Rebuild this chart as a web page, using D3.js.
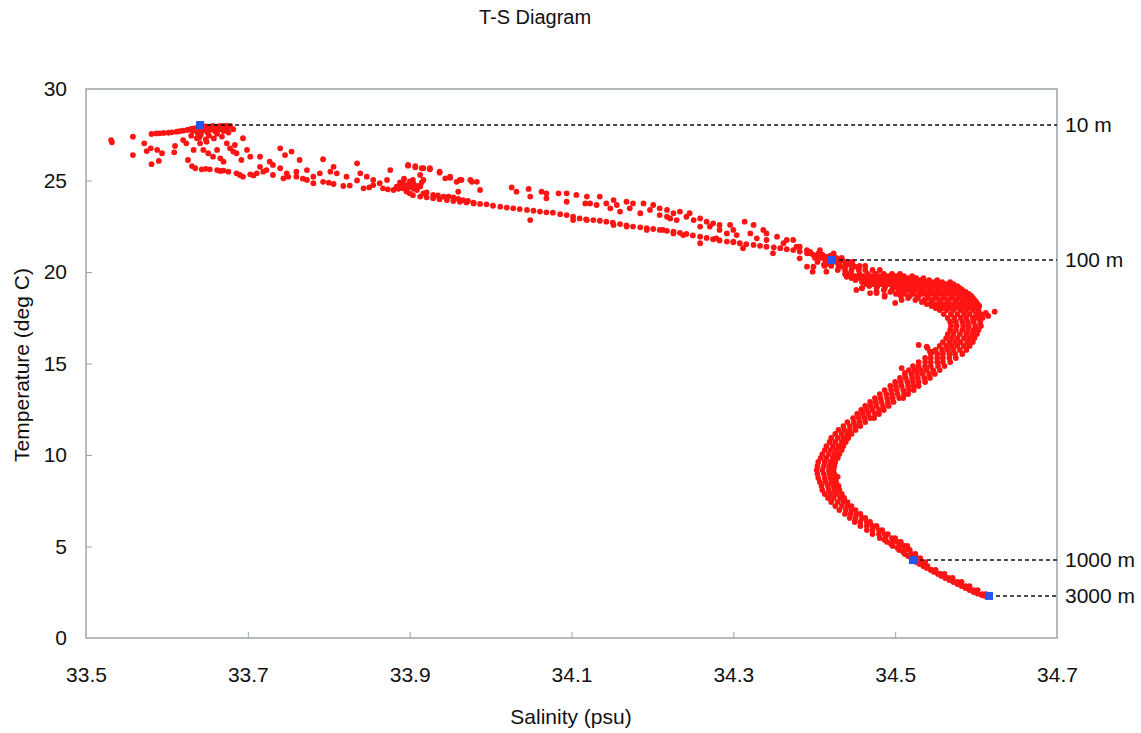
<!DOCTYPE html>
<html lang="en">
<meta charset="utf-8">
<head>
    <script src="https://cdn.jsdelivr.net/npm/d3@7"></script>
    <style>
        body { margin: 0; background: #fff; }
        svg { display: block; font-family: "Liberation Sans", Arial, sans-serif; }
    </style>
</head>
<body>
</body>

<script>
    var width = 1141, height = 733;
    var plotLeft = 86, plotRight = 1057, plotTop = 89, plotBottom = 638;

    // axis ticks
    var salinityTicks = [33.5, 33.7, 33.9, 34.1, 34.3, 34.5, 34.7];
    var tempTicks = [0, 5, 10, 15, 20, 25, 30];

    // depth markers
    var depthLabels = ['10 m', '100 m', '1000 m', '3000 m'];
    var depthSalinity = [33.641, 34.422, 34.522, 34.616];
    var depthTemp = [28.03, 20.66, 4.26, 2.30];

    // mixed layer, [salinity, temperature]
    var surfaceObs = [
        [33.531,27.21],[33.532,27.09],[33.558,27.39],[33.558,26.39],[33.572,27.03],[33.575,26.61],
        [33.580,26.76],[33.588,26.67],[33.594,26.49],[33.581,25.89],[33.590,26.07],
        [33.581,27.54],[33.587,27.57],[33.591,27.58],[33.596,27.60],[33.602,27.61],[33.606,27.63],
        [33.612,27.67],[33.616,27.70],[33.620,27.72],[33.625,27.76],[33.629,27.80],[33.632,27.84],
        [33.637,27.89],[33.645,27.94],[33.648,27.95],[33.653,27.94],[33.657,27.98],[33.662,27.94],
        [33.666,27.98],[33.670,27.98],[33.674,27.99],[33.678,27.99],
        [33.632,27.70],[33.638,27.60],[33.645,27.75],[33.650,27.62],[33.655,27.78],[33.660,27.68],
        [33.665,27.80],[33.670,27.70],[33.675,27.85],[33.642,27.50],[33.652,27.45],[33.662,27.55],
        [33.668,27.40],[33.676,27.62],[33.640,27.35],[33.648,27.25],[33.630,27.45],[33.658,27.30],
        [33.682,27.80],[33.652,27.85],[33.660,27.88],[33.668,27.90],[33.640,27.80],
        [33.610,26.89],[33.609,26.54],[33.620,27.21],[33.624,27.03],[33.633,26.67],[33.637,27.31],
        [33.641,27.03],[33.649,27.12],[33.645,26.67],[33.651,26.49],[33.657,26.30],[33.662,26.67],
        [33.666,26.21],[33.670,26.03],[33.674,27.03],[33.678,26.76],[33.682,26.58],[33.684,26.94],
        [33.686,26.49],[33.694,27.31],[33.699,26.67],[33.692,26.12],[33.703,26.30],[33.715,26.30],
        [33.727,26.03],[33.740,26.76],[33.746,26.39],[33.754,26.58],[33.764,26.12],[33.793,26.16],
        [33.806,25.75],[33.835,25.94],[33.876,25.57],[33.898,25.81],[33.907,25.72],[33.917,25.67],
        [33.925,25.61],[33.937,25.43],[33.950,25.15],[33.962,25.03],[33.977,24.93],
        [33.715,25.75],[33.723,25.57],[33.731,25.85],[33.740,25.67],[33.748,25.39],[33.760,25.48],
        [33.773,25.57],[33.781,25.21],[33.789,25.39],[33.802,25.48],[33.810,25.39],[33.822,25.21],
        [33.839,25.39],[33.847,25.21],[33.855,25.03],[33.863,24.85],[33.872,25.03],[33.884,24.67],
        [33.892,24.85],[33.904,25.03],[33.913,24.67],
        [33.626,26.12],[33.631,25.79],[33.635,25.67],[33.643,25.61],[33.653,25.61],[33.662,25.57],
        [33.670,25.54],[33.676,25.48],[33.686,25.39],[33.694,25.21],[33.703,25.34],[33.711,25.39],
        [33.719,25.48],[33.731,25.30],[33.744,25.12],[33.760,25.21],[33.773,25.03],[33.781,24.85],
        [33.793,24.93],[33.806,24.81],[33.818,24.70],[33.835,25.00],[33.843,24.57],[33.855,24.75],
        [33.867,24.57],[33.880,24.48],[33.892,24.57],[33.900,24.66],[33.909,24.48],[33.917,24.30],
        [33.929,24.21],[33.942,24.12],[33.954,24.08],[33.966,23.93],[33.979,23.79],
        [33.648,25.64],[33.666,25.52],[33.690,25.30],[33.707,25.28],[33.750,25.20],[33.768,25.10],
        [33.800,24.88],[33.826,24.72],[33.850,24.62],[33.873,24.52],[33.886,24.55],[33.896,24.40],
        [33.905,24.55],[33.921,24.35],[33.935,24.18],[33.948,24.12],[33.960,24.00],[33.972,23.88],
        [33.888,24.90],[33.895,24.75],[33.900,24.95],[33.905,24.80],[33.910,24.70],[33.915,24.90],
        [33.898,24.62],[33.893,25.10]
    ];

    // upper thermocline, [salinity, temperature]
    var thermoclineObs = [
        [33.888,24.66],[33.900,24.30],[33.913,24.12],[33.929,24.03],[33.946,23.93],[33.962,23.84],
        [33.979,23.75],[33.995,23.70],[34.012,23.57],[34.028,23.48],[34.045,23.39],[34.061,23.30],
        [34.077,23.24],[34.094,23.11],[34.110,22.93],[34.127,22.84],[34.143,22.75],[34.160,22.62],
        [34.176,22.48],[34.193,22.39],[34.209,22.30],[34.226,22.20],[34.242,22.08],[34.259,21.93],
        [34.275,21.79],[34.292,21.66],[34.308,21.57],[34.325,21.48],[34.341,21.38],[34.358,21.30],
        [34.374,21.20],[34.391,21.02],[34.407,20.84],[34.419,20.66],
        [33.904,24.20],[33.921,24.08],[33.937,23.98],[33.954,23.88],[33.970,23.80],[33.987,23.72],
        [34.003,23.62],[34.020,23.52],[34.036,23.44],[34.053,23.35],[34.069,23.26],[34.086,23.16],
        [34.102,23.02],[34.118,22.88],[34.135,22.80],[34.151,22.70],[34.168,22.55],[34.185,22.44],
        [34.201,22.35],[34.218,22.25],[34.234,22.14],[34.250,22.00],[34.267,21.86],[34.283,21.72],
        [34.300,21.62],[34.316,21.52],[34.333,21.43],[34.350,21.34],[34.366,21.25],[34.382,21.12],
        [34.399,20.93],[34.413,20.75],
        [33.898,25.85],[33.907,25.79],[33.915,25.67],[33.925,25.67],[33.937,25.48],[33.913,25.30],
        [33.917,25.03],[33.944,25.12],[33.950,25.21],[33.958,24.93],[33.964,25.03],[33.975,25.03],
        [33.983,24.93],[33.987,24.48],[33.960,24.39],[34.026,24.62],[34.032,24.39],[34.047,24.54],
        [34.049,24.12],[34.063,24.39],[34.069,24.30],[34.069,24.03],[34.084,24.30],[34.094,24.30],
        [34.094,23.84],[34.106,24.21],[34.119,24.12],[34.117,23.75],[34.135,24.12],[34.143,23.75],
        [34.152,23.93],[34.156,23.66],[34.168,23.84],[34.176,23.75],[34.189,23.75],[34.201,23.66],
        [34.209,23.48],[34.218,23.39],[34.218,23.02],[34.226,23.21],[34.234,23.30],[34.242,23.02],
        [34.251,22.84],[34.259,22.93],[34.267,22.75],[34.275,22.66],[34.283,22.57],[34.296,22.57],
        [34.300,22.30],[34.314,22.75],[34.325,22.57],[34.337,22.30],[34.341,22.11],[34.354,21.93],
        [34.366,21.75],[34.378,21.38],[34.391,21.20],[34.403,20.84],[34.399,20.29],[34.415,20.48],
        [34.432,20.29],[34.440,19.93],
        [34.049,22.84],[34.102,22.84],[34.119,22.84],[34.152,22.57],[34.168,22.48],[34.193,22.30],
        [34.213,22.30],[34.226,22.11],[34.238,22.02],[34.259,21.57],[34.279,21.84],[34.300,21.66],
        [34.312,21.30],[34.349,21.02],[34.382,20.75],[34.391,20.29],
        [34.123,23.75],[34.131,23.66],[34.148,23.48],[34.160,23.30],[34.172,23.48],[34.185,23.21],
        [34.197,23.39],[34.209,23.11],[34.222,22.93],[34.230,22.84],[34.246,23.21],[34.259,22.48],
        [34.271,22.48],[34.283,22.30],[34.292,22.11],[34.304,22.02],[34.321,22.11],[34.329,21.84],
        [34.341,21.75],[34.362,21.57],[34.374,21.75],[34.382,21.38],[34.395,21.02],[34.407,21.20],
        [34.415,20.84],[34.424,21.02],
        [34.395,21.10],[34.405,21.00],[34.410,20.95],[34.420,20.90],[34.425,20.80],[34.430,20.70],
        [34.415,20.60],[34.428,20.55],[34.435,20.62],[34.440,20.50],[34.445,20.40],[34.438,20.35],
        [34.450,20.30],[34.455,20.20],[34.420,20.45],[34.412,20.40],
        [34.398,20.02],[34.415,20.02],[34.440,19.74],[34.459,19.11],[34.477,18.93],[34.487,18.74],
        [34.459,19.13],[34.477,18.85],[34.487,18.65],[34.508,18.47],[34.469,18.85],[34.452,19.02],
        [34.500,18.31],[34.540,15.85],[34.543,15.65],[34.508,14.75],[34.512,14.48],[34.527,14.64],
        [34.539,15.92],[34.546,15.65],[34.529,16.01],[34.623,17.83],[34.612,17.76],[34.615,17.60],
        [34.429,8.81]
    ];

    // deep water below 800 m, [salinity, temperature]
    var deepObs = [
        [34.487,5.36],[34.495,5.14],[34.503,4.92],[34.510,4.70],[34.516,4.48],[34.524,4.20],
        [34.530,4.05],[34.535,3.94],[34.539,3.83],[34.544,3.72],[34.548,3.61],[34.553,3.50],
        [34.557,3.39],[34.562,3.28],[34.567,3.17],[34.572,3.06],[34.577,2.95],[34.582,2.84],
        [34.587,2.73],[34.592,2.62],[34.597,2.51],[34.602,2.42],[34.607,2.35]
    ];

    // main water-mass band, one row of salinities per temperature
    var bandTemp = [
        20.77,20.55,20.33,20.11,19.89,19.67,19.45,19.23,19.02,18.80,18.58,18.36,18.14,17.92,17.70,
        17.49,17.27,17.05,16.83,16.61,16.39,16.17,15.96,15.74,15.52,15.30,15.08,14.86,14.64,14.43,
        14.21,13.99,13.77,13.55,13.33,13.11,12.90,12.68,12.46,12.24,12.02,11.80,11.58,11.37,11.15,
        10.93,10.71,10.49,10.27,10.05,9.84,9.62,9.40,9.18,8.96,8.74,8.52,8.31,8.09,7.87,
        7.65,7.43,7.21,6.99,6.78,6.56,6.34,6.12,5.90,5.68,5.46,5.25,5.03,4.81,4.59,
        4.37,4.15,3.93,3.72,3.50,3.28,3.06,2.84,2.62,2.40,2.30,
        19.78,19.56,19.34,19.12,18.91,18.69,18.47,18.25,18.03
    ];
    var bandSal = [
        [34.401,34.409,34.418,34.427,34.434],
        [34.404,34.414,34.423,34.431,34.440,34.447],
        [34.413,34.421,34.430,34.439,34.447,34.456,34.463],
        [34.429,34.438,34.446,34.455,34.463,34.472,34.481],
        [34.438,34.446,34.456,34.466,34.476,34.486,34.496,34.506],
        [34.446,34.456,34.466,34.476,34.486,34.496,34.506,34.516,34.526,34.535],
        [34.459,34.468,34.478,34.488,34.498,34.508,34.518,34.528,34.538,34.548,34.558,34.568],
        [34.468,34.478,34.488,34.498,34.508,34.518,34.528,34.538,34.548,34.558,34.568,34.577],
        [34.486,34.496,34.506,34.516,34.526,34.535,34.545,34.555,34.565,34.575,34.583],
        [34.501,34.512,34.523,34.534,34.545,34.555,34.565,34.575,34.583,34.591],
        [34.516,34.528,34.540,34.550,34.560,34.570,34.580,34.589,34.596],
        [34.533,34.545,34.555,34.565,34.575,34.583,34.592,34.600],
        [34.545,34.555,34.565,34.573,34.582,34.591,34.598,34.604],
        [34.555,34.564,34.572,34.581,34.588,34.596,34.603],
        [34.560,34.569,34.577,34.585,34.592,34.600,34.606],
        [34.565,34.573,34.581,34.588,34.596,34.602,34.608],
        [34.568,34.575,34.583,34.590,34.597,34.605],
        [34.569,34.576,34.584,34.591,34.599,34.606],
        [34.568,34.575,34.583,34.590,34.597,34.603],
        [34.565,34.572,34.580,34.588,34.595,34.601],
        [34.563,34.570,34.577,34.585,34.592,34.598],
        [34.559,34.567,34.574,34.581,34.589,34.596],
        [34.555,34.563,34.570,34.577,34.585,34.592],
        [34.550,34.558,34.565,34.572,34.580,34.588],
        [34.544,34.552,34.559,34.567,34.574,34.583],
        [34.537,34.544,34.552,34.559,34.567,34.575],
        [34.529,34.537,34.544,34.552,34.559,34.568],
        [34.522,34.529,34.537,34.544,34.553,34.561],
        [34.517,34.524,34.532,34.539,34.547,34.555],
        [34.512,34.520,34.527,34.534,34.542,34.549],
        [34.506,34.513,34.521,34.528,34.536,34.543],
        [34.500,34.507,34.515,34.522,34.529,34.537],
        [34.494,34.501,34.508,34.516,34.523,34.529],
        [34.487,34.495,34.502,34.510,34.517,34.523],
        [34.481,34.489,34.496,34.503,34.511,34.516],
        [34.475,34.482,34.490,34.497,34.505,34.510],
        [34.469,34.476,34.483,34.491,34.498],
        [34.463,34.470,34.477,34.485,34.492],
        [34.458,34.465,34.472,34.480,34.486],
        [34.453,34.460,34.467,34.475,34.480],
        [34.448,34.455,34.462,34.469,34.474],
        [34.441,34.449,34.456,34.463],
        [34.436,34.444,34.451,34.457],
        [34.430,34.437,34.444,34.451],
        [34.426,34.434,34.441,34.446],
        [34.421,34.429,34.436,34.442],
        [34.419,34.426,34.434,34.439],
        [34.415,34.423,34.430,34.436],
        [34.413,34.420,34.427,34.434],
        [34.410,34.418,34.425,34.431],
        [34.408,34.415,34.423,34.429],
        [34.405,34.413,34.420,34.426],
        [34.404,34.412,34.419,34.425],
        [34.403,34.410,34.418,34.424],
        [34.404,34.412,34.419,34.425],
        [34.405,34.413,34.420,34.426],
        [34.407,34.414,34.421,34.427],
        [34.409,34.417,34.424,34.430],
        [34.410,34.418,34.425,34.431],
        [34.413,34.420,34.427,34.434],
        [34.417,34.424,34.432,34.437],
        [34.421,34.429,34.436,34.441],
        [34.426,34.434,34.441,34.446],
        [34.431,34.439,34.446,34.451],
        [34.438,34.445,34.452,34.457],
        [34.444,34.451,34.459,34.463],
        [34.450,34.457,34.465,34.469],
        [34.457,34.465,34.472,34.477],
        [34.465,34.472,34.480,34.484],
        [34.472,34.480,34.487,34.491],
        [34.481,34.488,34.496,34.500],
        [34.490,34.497,34.503,34.507],
        [34.497,34.505,34.511,34.515],
        [34.505,34.512,34.518],
        [34.512,34.520,34.525],
        [34.520,34.526,34.531],
        [34.526,34.532,34.537],
        [34.535,34.540],
        [34.545,34.550],
        [34.556,34.561],
        [34.566,34.571],
        [34.577,34.582],
        [34.587,34.592],
        [34.597,34.602],
        [34.608,34.612],
        [34.611],
        [34.442,34.451,34.461,34.471,34.481,34.491,34.501,34.511,34.521],
        [34.451,34.462,34.472,34.482,34.492,34.502,34.512,34.522,34.532,34.542,34.552],
        [34.464,34.473,34.483,34.493,34.503,34.513,34.523,34.533,34.543,34.553,34.563,34.572],
        [34.477,34.487,34.497,34.503,34.513,34.523,34.533,34.543,34.553,34.563,34.572,34.580],
        [34.494,34.504,34.511,34.521,34.531,34.540,34.550,34.560,34.570,34.579,34.587],
        [34.507,34.518,34.529,34.540,34.550,34.560,34.570,34.579,34.587,34.594],
        [34.525,34.536,34.545,34.555,34.565,34.575,34.585,34.593,34.598],
        [34.539,34.550,34.560,34.570,34.579,34.587,34.596,34.602],
        [34.550,34.560,34.569,34.578,34.586,34.594,34.601]
    ];

    var svg = d3.select('body').append('svg').attr('width', width).attr('height', height);

    var x = d3.scaleLinear().domain([33.5, 34.7]).range([plotLeft, plotRight]);
    var y = d3.scaleLinear().domain([0, 30]).range([plotBottom, plotTop]);

    var axisColor = '#9ba5a8';
    var fontSize = 21;

    // frame
    svg.append('rect')
        .attr('x', plotLeft).attr('y', plotTop)
        .attr('width', plotRight - plotLeft).attr('height', plotBottom - plotTop)
        .attr('fill', 'none').attr('stroke', axisColor).attr('stroke-width', 1.5);

    var xAxis = svg.append('g')
        .attr('transform', 'translate(0,' + plotBottom + ')')
        .call(d3.axisBottom(x).tickValues(salinityTicks).tickFormat(d3.format('.1f'))
            .tickSizeInner(-6).tickSizeOuter(0).tickPadding(29));
    var yAxis = svg.append('g')
        .attr('transform', 'translate(' + plotLeft + ',0)')
        .call(d3.axisLeft(y).tickValues(tempTicks).tickSizeInner(-6).tickSizeOuter(0).tickPadding(19));

    [xAxis, yAxis].forEach(function(a) {
        a.select('.domain').remove();
        a.selectAll('line').attr('stroke', axisColor);
        a.selectAll('text').attr('font-size', fontSize).attr('fill', '#111')
            .attr('font-family', '"Liberation Sans", Arial, sans-serif');
    });
    xAxis.selectAll('.tick line').filter(function(d) { return d === 33.5 || d === 34.7; }).remove();
    yAxis.selectAll('.tick line').filter(function(d) { return d === 0 || d === 30; }).remove();

    // observations
    var obs = surfaceObs.concat(thermoclineObs, deepObs);
    bandTemp.forEach(function(t, i) {
        bandSal[i].forEach(function(s) { obs.push([s, t]); });
    });

    svg.append('g').selectAll('circle')
        .data(obs)
        .join('circle')
        .attr('cx', function(d) { return x(d[0]); })
        .attr('cy', function(d) { return y(d[1]); })
        .attr('r', 2.9)
        .attr('fill', '#ff1414');

    // depth lines and markers
    var depth = depthLabels.map(function(l, i) {
        return {label: l, s: depthSalinity[i], t: depthTemp[i]};
    });

    svg.append('g').selectAll('line')
        .data(depth)
        .join('line')
        .attr('x1', function(d) { return x(d.s); })
        .attr('x2', plotRight)
        .attr('y1', function(d) { return y(d.t); })
        .attr('y2', function(d) { return y(d.t); })
        .attr('stroke', '#111').attr('stroke-width', 1.5)
        .attr('stroke-dasharray', '4,3');

    svg.append('g').selectAll('rect')
        .data(depth)
        .join('rect')
        .attr('x', function(d) { return x(d.s) - 4; })
        .attr('y', function(d) { return y(d.t) - 4; })
        .attr('width', 8).attr('height', 8)
        .attr('fill', '#2456f0');

    svg.append('g').selectAll('text')
        .data(depth)
        .join('text')
        .attr('x', plotRight + 8)
        .attr('y', function(d) { return y(d.t); })
        .attr('dy', '0.35em')
        .attr('font-size', fontSize).attr('fill', '#111')
        .text(function(d) { return d.label; });

    // titles
    svg.append('text')
        .attr('x', 535).attr('y', 24)
        .attr('text-anchor', 'middle').attr('font-size', 20).attr('fill', '#111')
        .text('T-S Diagram');
    svg.append('text')
        .attr('x', 571).attr('y', 724)
        .attr('text-anchor', 'middle').attr('font-size', fontSize).attr('fill', '#111')
        .text('Salinity (psu)');
    svg.append('text')
        .attr('transform', 'translate(29,' + 365 + ') rotate(-90)')
        .attr('text-anchor', 'middle').attr('font-size', fontSize).attr('fill', '#111')
        .text('Temperature (deg C)');

    console.log('ready..');
</script>
</html>
